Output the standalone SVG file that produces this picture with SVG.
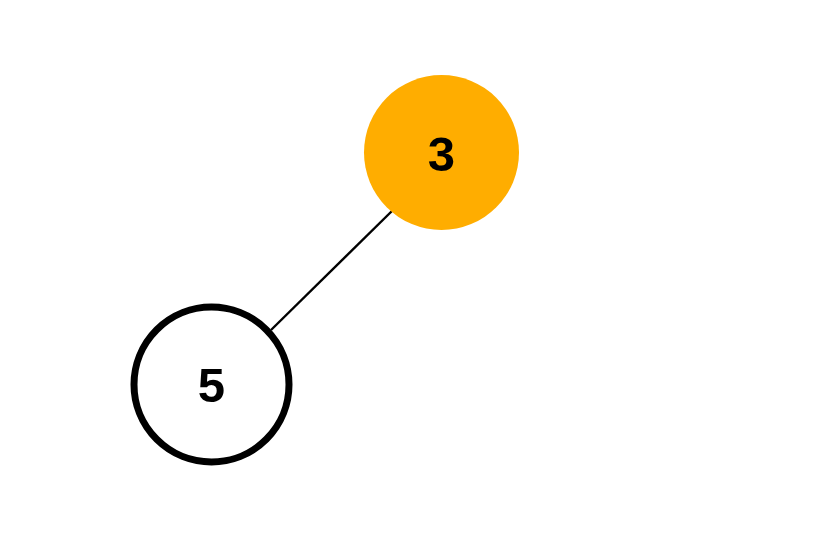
<svg xmlns="http://www.w3.org/2000/svg" width="818" height="556" viewBox="0 0 818 556">
<style>
.lbl{font-family:"Liberation Sans",Arial,sans-serif;font-weight:bold;font-size:49px;fill:#000;text-anchor:middle}
.edge{stroke:#000;stroke-width:2.4;fill:none}
</style>
<rect width="818" height="556" fill="#fff"/>
<g id="edges">
<line class="edge" x1="394" y1="209" x2="271" y2="330"/>
</g>
<g id="node-3">
<circle cx="441.5" cy="152.5" r="77.5" fill="#FFAD00"/>
<text class="lbl" x="441.5" y="171">3</text>
</g>
<g id="node-5">
<circle cx="211.5" cy="384.5" r="77.5" fill="#fff" stroke="#000" stroke-width="7"/>
<text class="lbl" x="211.5" y="402">5</text>
</g>
</svg>
